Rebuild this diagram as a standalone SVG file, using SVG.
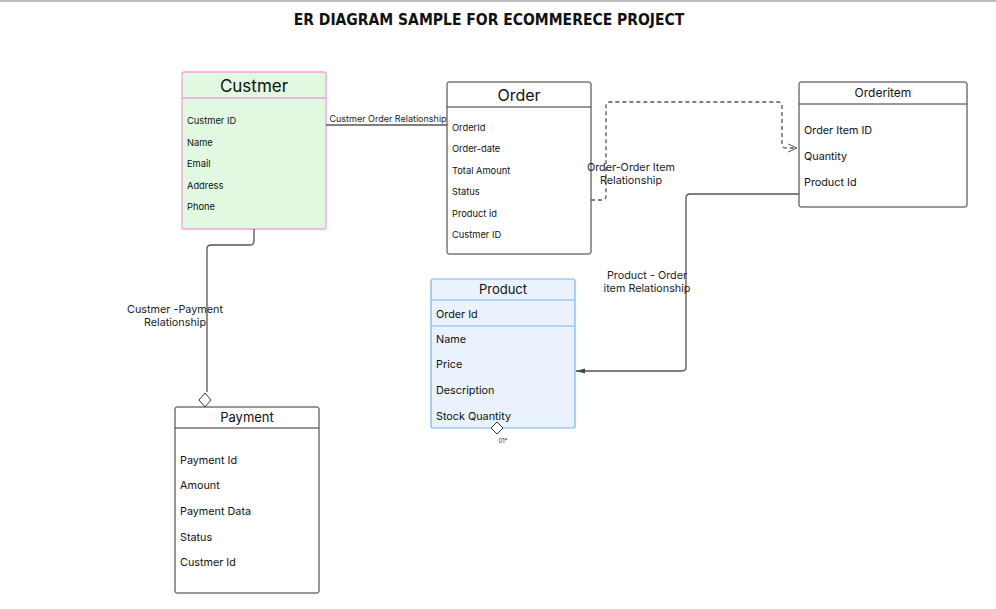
<svg xmlns="http://www.w3.org/2000/svg" width="996" height="609" viewBox="0 0 996 609">
<defs>
<style>
.t{font-family:Inter,"Liberation Sans",sans-serif;fill:#111}
.a{font-size:9.3px}
.b{font-size:10.8px}
.box{fill:#fff;stroke:#333;stroke-width:1}
.hl{stroke:#333;stroke-width:1}
.c{fill:none;stroke:#555;stroke-width:1.3}
.lbl{font-family:Inter,"Liberation Sans",sans-serif;fill:#222}
</style>
<marker id="open" markerWidth="12" markerHeight="12" refX="10" refY="5" orient="auto" markerUnits="userSpaceOnUse">
<path d="M1,1 L10,5 L1,9" fill="none" stroke="#555" stroke-width="1"/>
</marker>
<marker id="fill" markerWidth="12" markerHeight="10" refX="9" refY="4" orient="auto" markerUnits="userSpaceOnUse">
<path d="M0,1.5 L9,4 L0,6.5 Z" fill="#444"/>
</marker>
</defs>
<rect width="996" height="609" fill="#fff"/>
<line x1="0" y1="1" x2="996" y2="1" stroke="#bbb" stroke-width="2"/>
<text x="489" y="25" text-anchor="middle" font-family="'Comic Sans MS','DejaVu Sans Condensed','DejaVu Sans',sans-serif" font-weight="bold" font-size="15.5" fill="#111">ER DIAGRAM  SAMPLE FOR ECOMMERECE PROJECT</text>

<g id="custmer">
<rect x="182" y="72" width="144" height="157" rx="2" fill="#e1f8e1" stroke="#f5a0e0" stroke-width="1.3"/>
<line x1="182" y1="98" x2="326" y2="98" stroke="#f5a0e0" stroke-width="1.3"/>
<text class="t" x="254" y="92" text-anchor="middle" font-size="17">Custmer</text>
<text class="t a" x="187" y="124">Custmer ID</text>
<text class="t a" x="187" y="146">Name</text>
<text class="t a" x="187" y="167">Email</text>
<text class="t a" x="187" y="189">Address</text>
<text class="t a" x="187" y="210">Phone</text>
</g>

<g id="order">
<rect class="box" x="447" y="82" width="144" height="172" rx="2"/>
<line class="hl" x1="447" y1="107" x2="591" y2="107"/>
<text class="t" x="519" y="101" text-anchor="middle" font-size="16">Order</text>
<text class="t a" x="452" y="131">OrderId</text>
<text class="t a" x="452" y="152">Order-date</text>
<text class="t a" x="452" y="174">Total Amount</text>
<text class="t a" x="452" y="195">Status</text>
<text class="t a" x="452" y="217">Product id</text>
<text class="t a" x="452" y="238">Custmer ID</text>
</g>

<g id="orderitem">
<rect class="box" x="799" y="82" width="168" height="125" rx="2"/>
<line class="hl" x1="799" y1="104" x2="967" y2="104"/>
<text class="t" x="883" y="97" text-anchor="middle" font-size="12">Orderitem</text>
<text class="t b" x="804" y="134">Order Item ID</text>
<text class="t b" x="804" y="160">Quantity</text>
<text class="t b" x="804" y="186">Product Id</text>
</g>

<g id="product">
<rect x="431" y="279" width="144" height="149" rx="2" fill="#eaf3fd" stroke="#7ab3f0" stroke-width="1.2"/>
<line x1="431" y1="300" x2="575" y2="300" stroke="#7ab3f0" stroke-width="1.2"/>
<line x1="431" y1="326" x2="575" y2="326" stroke="#7ab3f0" stroke-width="1.2"/>
<text class="t" x="503" y="294" text-anchor="middle" font-size="13">Product</text>
<text class="t b" x="436" y="318">Order Id</text>
<text class="t b" x="436" y="343">Name</text>
<text class="t b" x="436" y="368">Price</text>
<text class="t b" x="436" y="394">Description</text>
<text class="t b" x="436" y="420">Stock Quantity</text>
</g>

<g id="payment">
<rect class="box" x="175" y="407" width="144" height="186" rx="2"/>
<line class="hl" x1="175" y1="428" x2="319" y2="428"/>
<text class="t" x="247" y="422" text-anchor="middle" font-size="13">Payment</text>
<text class="t b" x="180" y="464">Payment Id</text>
<text class="t b" x="180" y="489">Amount</text>
<text class="t b" x="180" y="515">Payment Data</text>
<text class="t b" x="180" y="541">Status</text>
<text class="t b" x="180" y="566">Custmer Id</text>
</g>

<g id="connectors">
<line class="c" x1="326" y1="125" x2="447" y2="125"/>
<text class="lbl" x="388" y="122" text-anchor="middle" font-size="9">Custmer Order Relationship</text>
<path class="c" d="M254,229 V241 Q254,245 250,245 H211 Q207,245 207,249 V392"/>
<path d="M205,393 L211,400 L205,407 L199,400 Z" fill="#fff" stroke="#333" stroke-width="1"/>
<text class="lbl" x="175" y="313" text-anchor="middle" font-size="10.8">Custmer -Payment</text>
<text class="lbl" x="175" y="326" text-anchor="middle" font-size="10.8">Relationship</text>
<path class="c" d="M591,200 H602 Q606,200 606,196 V106 Q606,102 610,102 H778 Q782,102 782,106 V144 Q782,148 786,148 H797" stroke-dasharray="4,3" marker-end="url(#open)"/>
<text class="lbl" x="631" y="171" text-anchor="middle" font-size="10.8">Order-Order Item</text>
<text class="lbl" x="631" y="184" text-anchor="middle" font-size="10.8">Relationship</text>
<path class="c" d="M799,194 H690 Q686,194 686,198 V367 Q686,371 682,371 H576" marker-end="url(#fill)"/>
<text class="lbl" x="647" y="279" text-anchor="middle" font-size="10.8">Product - Order</text>
<text class="lbl" x="647" y="292" text-anchor="middle" font-size="10.8">item Relationship</text>
<path d="M497,422 L503,428 L497,434 L491,428 Z" fill="#fff" stroke="#333" stroke-width="1"/>
<text class="lbl" x="503" y="443" text-anchor="middle" font-size="6">01*</text>
</g>
</svg>
